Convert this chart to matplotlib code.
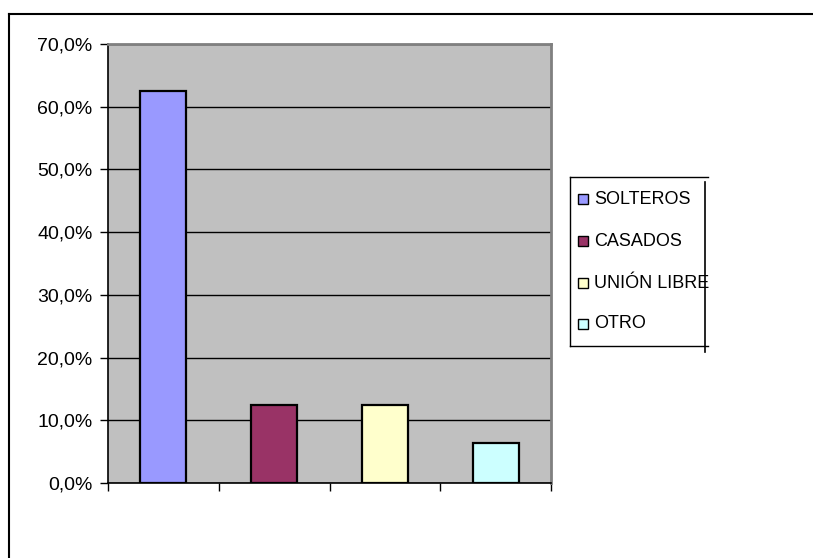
import numpy as np
from matplotlib import pyplot as plt
from matplotlib.lines import Line2D
from matplotlib.patches import Rectangle
from matplotlib.ticker import FuncFormatter, MultipleLocator

categories = ['SOLTEROS', 'CASADOS', 'UNIÓN LIBRE', 'OTRO']
values = [62.5, 12.5, 12.5, 6.3]
colors = ['#9999FF', '#993366', '#FFFFCC', '#CCFFFF']

plt.rcParams['font.family'] = ['Liberation Sans', 'DejaVu Sans']

fig = plt.figure(figsize=(8.13, 5.58), dpi=100)
ax = fig.add_axes([108 / 813, 1 - 483 / 558, 443 / 813, 439 / 558])
ax.set_facecolor('#C0C0C0')

x_pos = np.arange(len(values))
ax.bar(x_pos, values, width=0.415, color=colors, edgecolor='black', linewidth=1.6, zorder=3)

ax.set_xlim(-0.5, len(values) - 0.5)
ax.set_ylim(0, 70)
ax.yaxis.set_major_locator(MultipleLocator(10))
ax.yaxis.set_major_formatter(FuncFormatter(lambda v, _: f'{v:.1f}%'.replace('.', ',')))
ax.grid(axis='y', color='black', linewidth=1, zorder=1)
ax.set_axisbelow(True)

# ticks sit on category boundaries
ax.set_xticks(np.arange(len(values) + 1) - 0.5)
ax.set_xticklabels([])
ax.tick_params(axis='x', direction='out', length=6, width=1, color='black')
ax.tick_params(axis='y', direction='out', length=6, width=1, color='black',
               labelsize=14, pad=5)

for s in ['top', 'right']:
    ax.spines[s].set_color('#808080')
    ax.spines[s].set_linewidth(2)
for s in ['left', 'bottom']:
    ax.spines[s].set_color('black')
    ax.spines[s].set_linewidth(1.2)

# outer chart border (only left and top visible)
W, H = 813, 558
fig.add_artist(Line2D([9 / W, 9 / W], [0, 1 - 14 / H], color='black', linewidth=1.5))
fig.add_artist(Line2D([9 / W, 1], [1 - 14 / H, 1 - 14 / H], color='black', linewidth=1.5))

# legend box, clipped on the right like the original
lx0, lx1, ly0, ly1 = 570, 708, 177, 346
fig.add_artist(Line2D([lx0 / W, lx0 / W], [1 - ly0 / H, 1 - ly1 / H], color='black', linewidth=1))
fig.add_artist(Line2D([lx0 / W, lx1 / W], [1 - ly0 / H, 1 - ly0 / H], color='black', linewidth=1))
fig.add_artist(Line2D([lx0 / W, lx1 / W], [1 - ly1 / H, 1 - ly1 / H], color='black', linewidth=1))
fig.add_artist(Line2D([705 / W, 705 / W], [1 - 182 / H, 1 - 352 / H], color='black', linewidth=1.2))

rows_y = [199, 241, 283, 324]
for name, col, ry in zip(categories, colors, rows_y):
    fig.add_artist(Rectangle((578 / W, 1 - (ry + 5) / H), 10 / W, 10 / H,
                             facecolor=col, edgecolor='black', linewidth=1))
    fig.text(594 / W, 1 - ry / H, name, fontsize=13, va='center', ha='left')

fig.savefig('out.png', dpi=100)
